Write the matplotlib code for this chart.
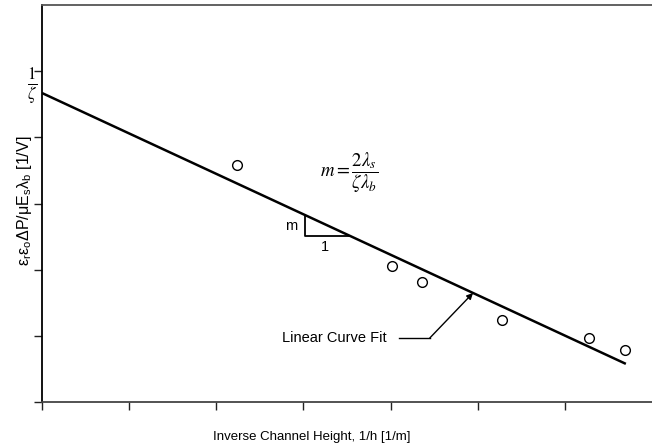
import matplotlib
matplotlib.use("Agg")
import matplotlib.pyplot as plt
import numpy as np

plt.rcParams['font.family'] = ['Liberation Sans', 'DejaVu Sans']
plt.rcParams['mathtext.fontset'] = 'custom'
plt.rcParams['mathtext.rm'] = 'Liberation Sans'
plt.rcParams['mathtext.it'] = 'Liberation Sans'
plt.rcParams['mathtext.bf'] = 'Liberation Sans:bold'

# data (arbitrary units)
inv_height = [2.24, 4.02, 4.36, 5.28, 6.28, 6.69]
pressure_ratio = [3.58, 2.06, 1.81, 1.24, 0.97, 0.79]
fit_intercept = 4.67
fit_slope = -0.611
fit_x = [0.0, 6.70]
x_ticks = [0, 1, 2, 3, 4, 5, 6]
y_ticks = [0, 1, 2, 3, 4, 5]

fig = plt.figure(figsize=(6.52, 4.44), dpi=100)
ax = fig.add_axes([0.0644, 0.0946, 0.9356, 0.8941])

fx = np.array(fit_x)
ax.plot(fx, fit_intercept + fit_slope * fx, color='black', lw=1.8, solid_capstyle='butt')
ax.plot(inv_height, pressure_ratio, linestyle='none', marker='o', ms=7,
        mfc='white', mec='black', mew=1.0)

# slope triangle
tx0, tdx = 3.02, 0.52
ty_top = fit_intercept + fit_slope * tx0
ty_bot = fit_intercept + fit_slope * (tx0 + tdx)
ax.plot([tx0, tx0, tx0 + tdx], [ty_top, ty_bot, ty_bot], color='black', lw=1.3)
ax.text(tx0 - 0.16, (ty_top + ty_bot) / 2, 'm', ha='center', va='center', fontsize=10.5)
ax.text(tx0 + tdx / 2 - 0.03, ty_bot - 0.17, '1', ha='center', va='center', fontsize=10.5)

ax.text(3.53, 3.46, r'$m=\dfrac{2\lambda_s}{\zeta\lambda_b}$', ha='center', va='center',
        fontsize=13.5, math_fontfamily='stix')

# annotation
ax.text(3.96, 0.967, 'Linear Curve Fit', ha='right', va='center', fontsize=10.5)
ax.plot([4.10, 4.45], [0.967, 0.967], color='black', lw=1.0)
ax.annotate('', xy=(4.946, fit_intercept + fit_slope * 4.946), xytext=(4.45, 0.967),
            arrowprops=dict(arrowstyle='-|>', color='black', lw=1.0,
                            mutation_scale=9, shrinkA=0, shrinkB=0))

# 1/zeta label on y axis
ax.text(-0.11, 4.76, r'$\frac{1}{\zeta}$', ha='center', va='center', fontsize=17,
        math_fontfamily='stix', clip_on=False)

ax.set_xlim(0, 7)
ax.set_ylim(0, 6)
ax.set_xticks(x_ticks)
ax.set_yticks(y_ticks)
ax.set_xticklabels([])
ax.set_yticklabels([])
ax.tick_params(direction='out', length=6, width=1.0, color='#222222')

ax.spines['right'].set_visible(False)
ax.spines['left'].set_linewidth(1.3)
ax.spines['left'].set_color('black')
ax.spines['bottom'].set_linewidth(1.3)
ax.spines['bottom'].set_color('#444444')
ax.spines['top'].set_linewidth(1.3)
ax.spines['top'].set_color('#555555')

fig.text(312 / 652, 1 - 437 / 444, 'Inverse Channel Height, 1/h [1/m]', fontsize=9.5,
         ha='center', va='center')
fig.text(25 / 652, 1 - 201 / 444,
         r'$\mathrm{\varepsilon_r\varepsilon_o\Delta P/\mu E_s\lambda_b}$ [1/V]',
         fontsize=11.5, ha='center', va='center', rotation=90)

fig.savefig('out.png', dpi=100)
